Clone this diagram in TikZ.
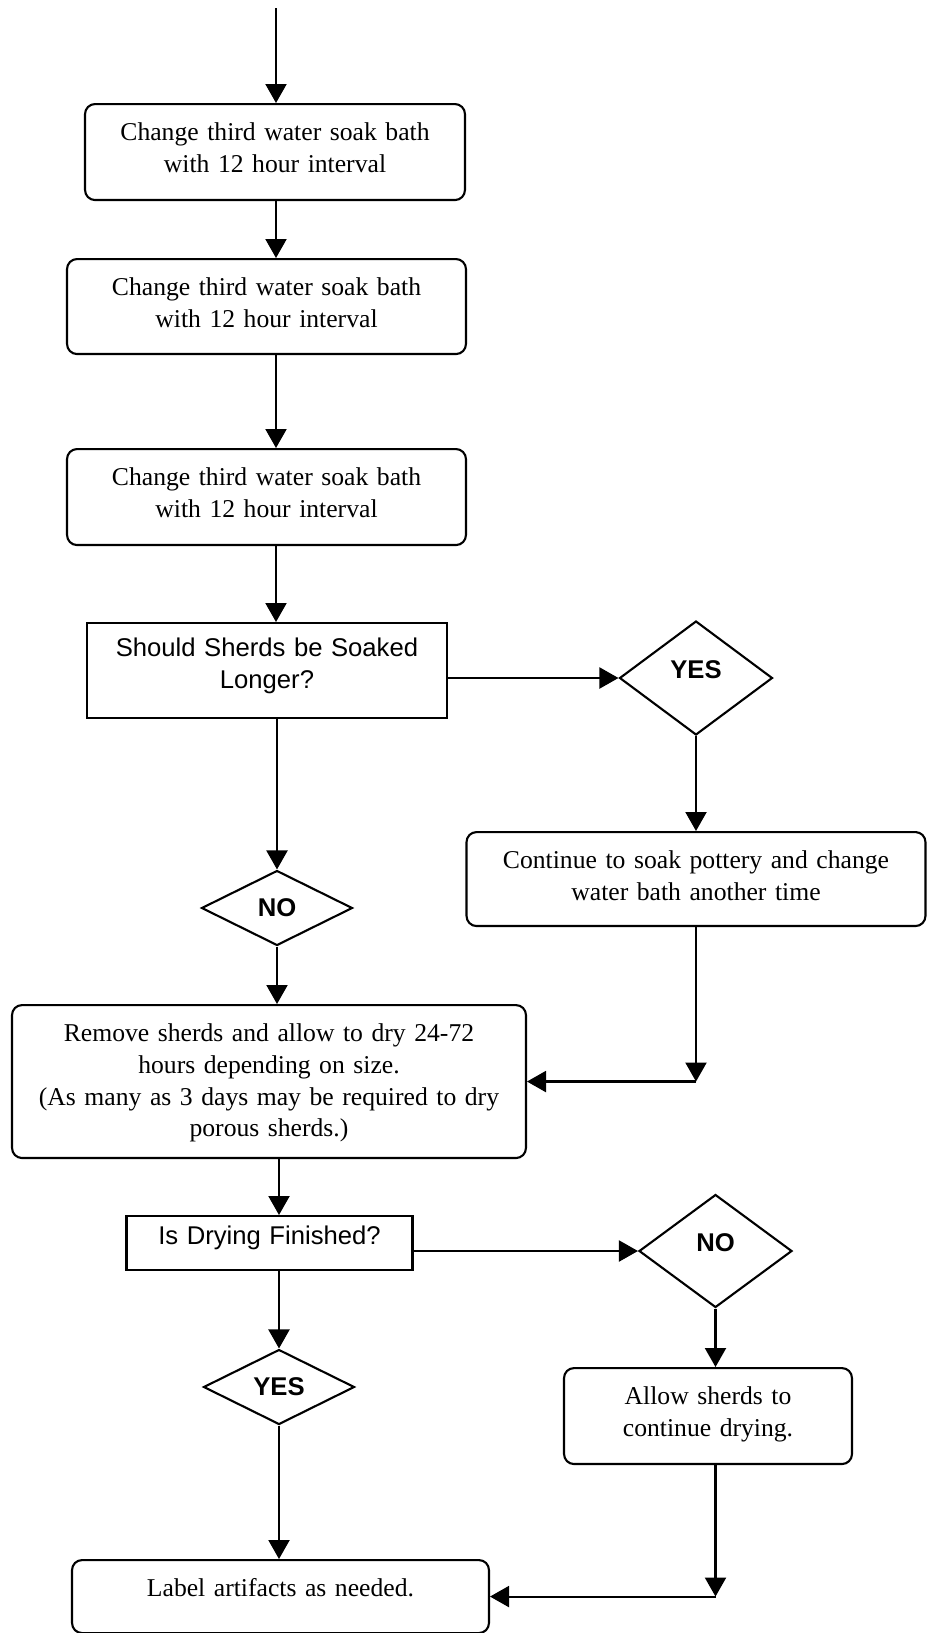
\documentclass[tikz,border=0pt]{standalone}
\usepackage{fontspec}
\setmainfont{Liberation Serif}
\setsansfont{Liberation Sans}
\usepackage{tikz}
\usetikzlibrary{positioning,shapes.geometric,arrows.meta}
\newcommand{\boxfont}{\fontsize{14.6}{18.2}\selectfont}
\tikzstyle{rbox}=[draw, rounded corners=0.2cm, inner xsep=0pt, inner ysep=0pt, align=center, anchor=north, text height=0.72cm, font=\boxfont]
\tikzstyle{qbox}=[draw, inner xsep=0pt, inner ysep=0pt, align=center, anchor=north, font=\sffamily\boxfont]
\tikzstyle{dec}=[draw, diamond, aspect=2, inner sep=0pt, font=\sffamily\bfseries\boxfont]

\begin{document}
\begin{tikzpicture}[x=0.02cm, y=-0.02cm, line width=1.2pt, >={Triangle[length=0.38cm,width=0.42cm]}]
\useasboundingbox (0,0) rectangle (929,1633);

% soaking
\coordinate (start) at (276,8);
\node[rbox, text width=7.6cm, text depth=1.2cm] at (275,103) (b1) {Change third water soak bath\\with 12 hour interval};
\node[rbox, text width=7.98cm, text depth=1.18cm] at (266.5,258) (b2) {Change third water soak bath\\with 12 hour interval};
\node[rbox, text width=7.98cm, text depth=1.2cm] at (266.5,448) (b3) {Change third water soak bath\\with 12 hour interval};
\draw[->] (start) -- (start |- b1.north);
\draw[->] (b1.south -| start) -- (b2.north -| start);
\draw[->] (b2.south -| start) -- (b3.north -| start);

\node[qbox, text width=7.2cm, text height=0.66cm, text depth=1.24cm] at (267,622) (q1) {Should Sherds be Soaked\\Longer?};
\draw[->] (b3.south -| start) -- (q1.north -| start);

\node[dec, minimum width=3.06cm, minimum height=2.28cm, text height=0.1cm, text depth=0.1cm] at (696,678) (yes1) {YES};
\draw[->] (q1.east |- yes1.west) -- (yes1.west);

\node[rbox, text width=9.18cm, text depth=1.16cm] at (696,831) (cont) {Continue to soak pottery and change\\water bath another time};
\draw[->] (yes1.south) -- (cont.north);

\node[dec, minimum width=3.02cm, minimum height=1.5cm] at (277,908) (no1) {NO};
\draw[->] (q1.south -| no1.north) -- (no1.north);

% drying
\node[rbox, text width=10.28cm, text depth=2.34cm] at (269,1004) (rem) {Remove sherds and allow to dry 24-72\\hours depending on size.\\(As many as 3 days may be required to dry\\porous sherds.)};
\draw[->] (no1.south) -- (no1.south |- rem.north);
\coordinate (c1) at (cont.south |- rem.east);
\draw[->] (cont.south) -- (c1);
\draw[->] (c1) -- (rem.east);

\node[qbox, text width=5.72cm, text height=0.56cm, text depth=0.52cm] at (269.5,1215) (dry) {Is Drying Finished?};
\node[dec, minimum width=3.02cm, minimum height=1.5cm] at (279,1387) (yes2) {YES};
\draw[->] (rem.south -| yes2.north) -- (dry.north -| yes2.north);

\node[dec, minimum width=3.06cm, minimum height=2.26cm, text height=0.1cm, text depth=0.1cm] at (715.5,1251) (no2) {NO};
\draw[->] (dry.east |- no2.west) -- (no2.west);

\node[rbox, text width=5.76cm, text depth=1.2cm] at (708,1367) (allow) {Allow sherds to\\continue drying.};
\draw[->] (no2.south) -- (no2.south |- allow.north);

\node[rbox, text width=8.34cm, text depth=0.74cm] at (280.5,1559) (lab) {Label artifacts as needed.};
\draw[->] (dry.south -| yes2.north) -- (yes2.north);
\draw[->] (yes2.south) -- (yes2.south |- lab.north);
\coordinate (c2) at (no2.south |- lab.east);
\draw[->] (allow.south -| no2.south) -- (c2);
\draw[->] (c2) -- (lab.east);
\end{tikzpicture}
\end{document}
